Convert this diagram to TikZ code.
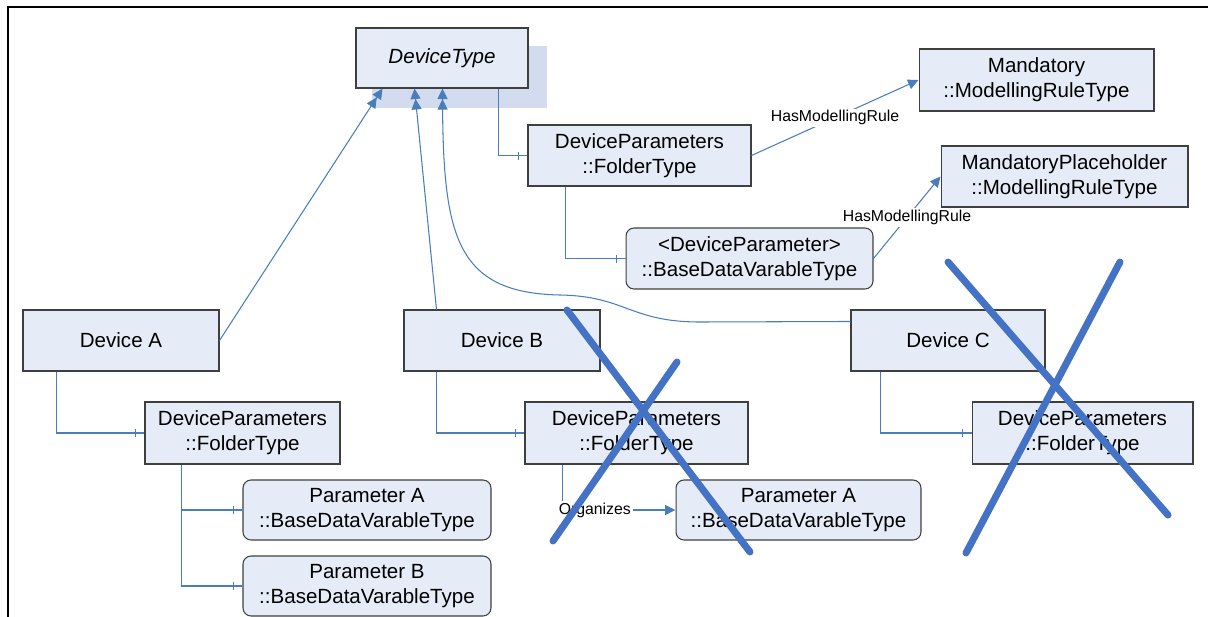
\documentclass[tikz,border=0pt]{standalone}
\usepackage{fontspec}
\setmainfont{Liberation Sans}
\usepackage{xcolor}
\usepackage{tikz}
\usetikzlibrary{calc,arrows.meta,decorations.markings,backgrounds}
\definecolor{boxfill}{HTML}{E6ECF7}
\definecolor{shadowfill}{HTML}{D3DCEF}
\definecolor{edge}{HTML}{3F3F3F}
\definecolor{link}{HTML}{4A7EBB}
\definecolor{strike}{HTML}{4472C4}
\tikzset{
  box/.style={draw=edge, fill=boxfill, line width=0.6pt, align=center, inner sep=0pt,
    font=\fontsize{11.7}{14.2}\selectfont},
  rbox/.style={box, rounded corners=0.16cm},
  conn/.style={draw=link, line width=0.6pt},
  isa/.style={conn, -{Triangle[length=0.21cm,width=0.2cm] Triangle[length=0.21cm,width=0.2cm]}},
  ref/.style={conn, -{Triangle[length=0.21cm,width=0.2cm]}},
  part/.style={conn, postaction={decorate, decoration={markings,
    mark=at position -0.18cm with {\draw[conn] (0,-0.08cm) -- (0,0.08cm);}}}},
  lbl/.style={font=\fontsize{9}{11}\selectfont, fill=white, inner sep=1pt},
  cross/.style={draw=strike, line width=4pt, line cap=round},
  frame/.style={draw=black, line width=1.2pt}
}

\begin{document}
\begin{tikzpicture}[x=0.02cm, y=-0.02cm]
  \useasboundingbox (0,0) rectangle (1208,616);

  % type side
  \node[box, font=\fontsize{11.7}{14.2}\selectfont\itshape, minimum width=3.44cm, minimum height=1.2cm] (dt) at (442,58) {DeviceType};
  \node[box, minimum width=4.46cm, minimum height=1.22cm] (dpt) at (639.5,155.5) {DeviceParameters\\::FolderType};
  \node[box, minimum width=4.70cm, minimum height=1.24cm] (mand) at (1036.5,80) {Mandatory\\::ModellingRuleType};
  \node[box, minimum width=4.94cm, minimum height=1.22cm] (mph) at (1064.5,176.5) {MandatoryPlaceholder\\::ModellingRuleType};
  \node[rbox, minimum width=4.94cm, minimum height=1.22cm] (dpv) at (749.5,258.5) {<DeviceParameter>\\::BaseDataVarableType};

  \begin{scope}[on background layer]
    \fill[shadowfill] ($(dt.north west)+(17,19)$) rectangle ($(dt.south east)+(18,19)$);
  \end{scope}

  % instances
  \node[box, minimum width=3.92cm, minimum height=1.22cm] (da) at (121,340.5) {Device A};
  \node[box, minimum width=3.90cm, minimum height=1.24cm] (dpa) at (242.5,433) {DeviceParameters\\::FolderType};
  \node[rbox, minimum width=4.96cm, minimum height=1.2cm] (pa) at (367,510) {Parameter A\\::BaseDataVarableType};
  \node[rbox, minimum width=4.96cm, minimum height=1.2cm] (pb) at (367,586) {Parameter B\\::BaseDataVarableType};

  \node[box, minimum width=3.92cm, minimum height=1.22cm] (db) at (502,340.5) {Device B};
  \node[box, minimum width=4.46cm, minimum height=1.24cm] (dpb) at (636.5,433) {DeviceParameters\\::FolderType};
  \node[rbox, minimum width=4.90cm, minimum height=1.2cm] (pab) at (798.5,510) {Parameter A\\::BaseDataVarableType};

  \node[box, minimum width=3.88cm, minimum height=1.22cm] (dc) at (948,340.5) {Device C};
  \node[box, minimum width=4.42cm, minimum height=1.24cm] (dpc) at (1082.5,433) {DeviceParameters\\::FolderType};

  \coordinate (dtA) at ($(dt.south west)+(27,0)$);
  \coordinate (dtB) at ($(dt.south west)+(59,0)$);
  \coordinate (dtC) at ($(dt.south west)+(87,0)$);
  \coordinate (dcC) at ($(dc.north west)+(0,12)$);

  \draw[isa] (da.east) -- (dtA);
  \draw[isa] ($(db.north west)+(33,0)$) -- (dtB);
  \draw[isa] (dcC) -- (700,322) .. controls (630,322) and (625,296) .. (560,295)
    .. controls (455,293) and (443,235) .. (dtC);

  \draw[part] ($(dt.south west)+(143,0)$) |- (dpt.west);
  \draw[part] ($(dpt.south west)+(38,0)$) |- (dpv.west);
  \draw[part] ($(da.south west)+(34,0)$) |- (dpa.west);
  \draw[part] ($(dpa.south west)+(37,0)$) |- (pa.west);
  \draw[part] ($(dpa.south west)+(37,0)$) |- (pb.west);
  \draw[part] ($(db.south west)+(33,0)$) |- (dpb.west);
  \draw[part] ($(dc.south west)+(30,0)$) |- (dpc.west);

  \draw[ref] (dpt.east) -- node[lbl] {HasModellingRule} (mand.west);
  \draw[ref] (dpv.east) -- node[lbl] {HasModellingRule} (mph.west);
  \draw[ref] ($(dpb.south west)+(38,0)$) |- node[lbl, pos=0.5, anchor=west, xshift=-0.12cm] {Organizes} (pab.west);

  % struck out
  \draw[cross] (567,310) -- (750,552);
  \draw[cross] (677,362) -- (553,541);
  \draw[cross] (948,262) -- (1168,515);
  \draw[cross] (1120,262) -- (966,553);

  \draw[frame] (8,620) -- (8,7) -- (1212,7);
\end{tikzpicture}
\end{document}
